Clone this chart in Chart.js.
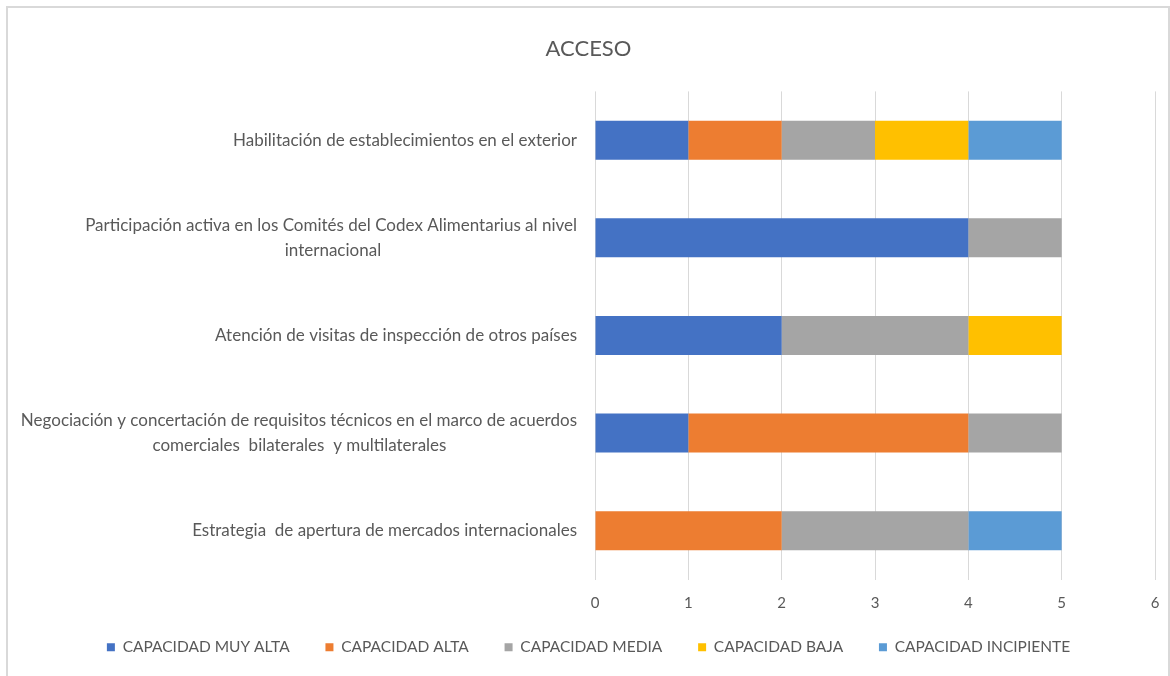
<!DOCTYPE html>
<html>
<head>
<meta charset="utf-8">
<script src="https://cdn.jsdelivr.net/npm/chart.js@4"></script>
<style>
  body { margin: 0; background: #fff; }
  #box {
    position: absolute; left: 6px; top: 6px;
    width: 1160px; height: 670px;
    border: 2px solid #d9d9d9;
  }
</style>
</head>
<body>
<div id="box"><canvas id="accesoChart" width="1160" height="670"></canvas></div>
<script>
const categories = [
  ["Habilitación de establecimientos en el exterior"],
  ["Participación activa en los Comités del Codex Alimentarius al nivel", "internacional"],
  ["Atención de visitas de inspección de otros países"],
  ["Negociación y concertación de requisitos técnicos en el marco de acuerdos", "comerciales  bilaterales  y multilaterales"],
  ["Estrategia  de apertura de mercados internacionales"]
];
const seriesNames = ["CAPACIDAD MUY ALTA", "CAPACIDAD ALTA", "CAPACIDAD MEDIA", "CAPACIDAD BAJA", "CAPACIDAD INCIPIENTE"];
const muyAlta    = [1, 4, 2, 1, 0];
const alta       = [1, 0, 0, 3, 2];
const media      = [1, 1, 2, 1, 2];
const baja       = [1, 0, 1, 0, 0];
const incipiente = [1, 0, 0, 0, 1];
const xTicks = [0, 1, 2, 3, 4, 5, 6];

const colors = ["#4472c4", "#ed7d31", "#a5a5a5", "#ffc000", "#5b9bd5"];
const labelSize = 17;

// centre the lines of a wrapped label under its longest line (ticks are right aligned)
function centerLines(lines) {
  const ctx = document.createElement("canvas").getContext("2d");
  ctx.font = labelSize + "px Lato";
  const space = ctx.measureText(" ").width;
  const widths = lines.map(l => ctx.measureText(l).width);
  const maxW = Math.max(...widths);
  return lines.map((l, i) => l + " ".repeat(Math.round((maxW - widths[i]) / 2 / space)));
}

const values = [muyAlta, alta, media, baja, incipiente];

new Chart(document.getElementById("accesoChart"), {
  type: "bar",
  data: {
    labels: categories.map(c => c.length > 1 ? centerLines(c) : c[0]),
    datasets: seriesNames.map((name, i) => ({
      label: name,
      data: values[i],
      backgroundColor: colors[i],
      borderWidth: 0,
      barPercentage: 0.4,
      categoryPercentage: 1
    }))
  },
  options: {
    indexAxis: "y",
    responsive: false,
    animation: false,
    layout: { padding: { left: 14, right: 13, top: 0, bottom: 13 } },
    scales: {
      x: {
        stacked: true,
        min: 0,
        max: 6,
        afterBuildTicks: s => { s.ticks = xTicks.map(v => ({ value: v })); },
        afterFit: s => { s.paddingRight = 4; },
        grid: { color: "#d9d9d9", drawTicks: false },
        border: { display: false },
        ticks: { color: "#595959", font: { family: "Lato", size: 15 }, padding: 15 }
      },
      y: {
        stacked: true,
        grid: { display: false },
        border: { display: false },
        afterFit: s => { s.width = 573; },
        ticks: { color: "#595959", font: { family: "Lato", size: labelSize, lineHeight: 1.45 }, padding: 10 }
      }
    },
    plugins: {
      title: {
        display: true,
        text: "ACCESO",
        color: "#595959",
        font: { family: "Lato", size: 22, weight: "normal" },
        padding: { top: 28, bottom: 29 }
      },
      legend: {
        position: "bottom",
        labels: {
          color: "#595959",
          font: { family: "Lato", size: 15.5 },
          boxWidth: 8,
          boxHeight: 8,
          padding: 12,
          // wider gaps between items without growing the legend's height
          generateLabels: chart => Chart.defaults.plugins.legend.labels.generateLabels(chart)
            .map((item, i, all) => i < all.length - 1 ? { ...item, text: item.text + "      " } : item)
        }
      },
      tooltip: { enabled: false }
    }
  }
});
</script>
</body>
</html>
